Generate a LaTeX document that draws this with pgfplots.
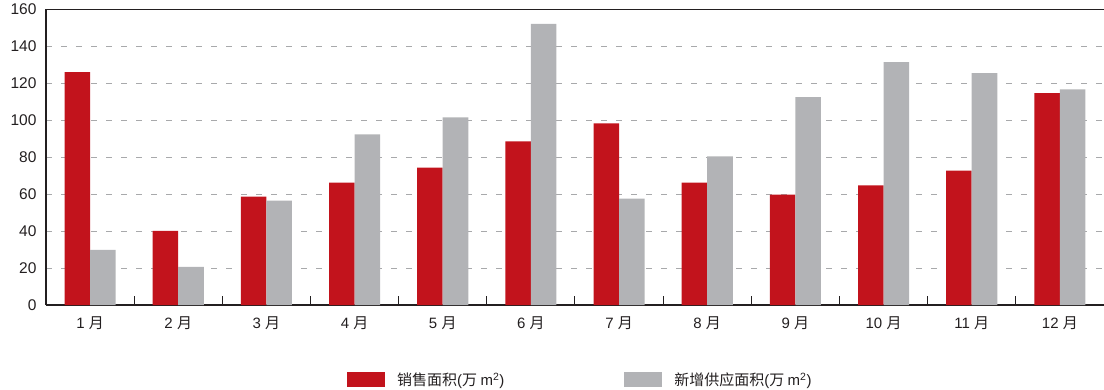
\documentclass[border=0pt]{standalone}
\usepackage{fontspec}
\setmainfont{Liberation Sans}
\newfontfamily\cjk{Noto Sans CJK SC}
\usepackage{pgfplots}
\pgfplotsset{compat=1.18}
\definecolor{cred}{HTML}{C2131C}
\definecolor{cgray}{HTML}{B2B3B6}
\definecolor{cdark}{HTML}{231F20}
\definecolor{cgrid}{HTML}{A8A9AB}
\begin{document}
\begin{tikzpicture}
\useasboundingbox (0,0) rectangle (1104pt,389pt);
\begin{axis}[
  at={(46pt,84pt)}, anchor=south west,
  scale only axis, width=1058pt, height=296pt,
  ybar=0pt, bar width=0.29,
  xmin=-0.5, xmax=11.5, ymin=0, ymax=160,
  axis lines*=left,
  axis line style={line width=2pt, cdark},
  xtick={0,...,11},
  xticklabels={1 {\cjk 月},2 {\cjk 月},3 {\cjk 月},4 {\cjk 月},5 {\cjk 月},6 {\cjk 月},7 {\cjk 月},8 {\cjk 月},9 {\cjk 月},10 {\cjk 月},11 {\cjk 月},12 {\cjk 月}},
  minor xtick={0.5,1.5,...,10.5},
  major x tick style={draw=none},
  minor x tick style={line width=1pt, cdark},
  minor tick length=9pt,
  tick align=inside,
  ytick={0,20,...,160},
  ytick style={draw=none},
  ymajorgrids,
  major grid style={cgrid, line width=0.8pt, dash pattern=on 6pt off 9pt},
  /pgf/number format/assume math mode=true,
  ticklabel style={text=cdark},
  yticklabel style={font=\fontsize{15.5}{17}\selectfont, xshift=-6pt},
  xticklabel style={font=\fontsize{15}{17}\selectfont, yshift=-8pt},
  legend columns=2,
  legend style={at={(0.2845,-0.253)}, anchor=west, draw=none, inner sep=0pt,
    font=\fontsize{15}{17}\selectfont, text=cdark, cells={anchor=west},
    /tikz/every odd column/.append style={column sep=10pt},
    /tikz/every even column/.append style={column sep=118pt}},
  legend image code/.code={\fill[#1] (0pt,-7.5pt) rectangle (38pt,7.5pt);},
]
\addplot[fill=cred, draw=none] coordinates {
(0,125.9) (1,40.1) (2,58.6) (3,66.2) (4,74.3) (5,88.4) (6,98.2) (7,66.2) (8,59.7) (9,64.6) (10,72.7) (11,114.5)};
\addplot[fill=cgray, draw=none] coordinates {
(0,29.8) (1,20.6) (2,56.4) (3,92.2) (4,101.4) (5,151.9) (6,57.5) (7,80.3) (8,112.3) (9,131.3) (10,125.3) (11,116.6)};
\legend{{\cjk 销售面积}(\cjk 万 \rmfamily m\textsuperscript{2}),{\cjk 新增供应面积}(\cjk 万 \rmfamily m\textsuperscript{2})}
\draw[line width=2pt, cdark] (rel axis cs:0,1) -- (rel axis cs:1,1);
\end{axis}
\end{tikzpicture}
\end{document}
